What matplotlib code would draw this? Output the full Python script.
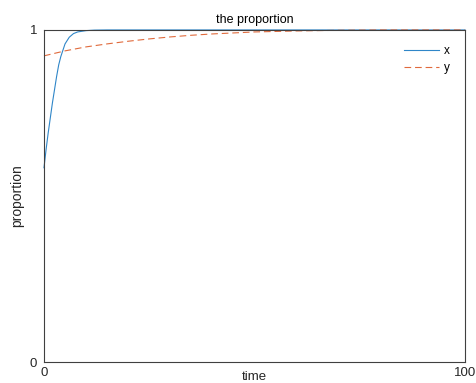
import matplotlib
matplotlib.use("Agg")
import matplotlib.pyplot as plt

plt.rcParams['font.family'] = ['Liberation Sans', 'DejaVu Sans']

# values
t_x = [0, 0.5, 1, 1.5, 2, 2.5, 3, 3.5, 4, 5, 6, 7, 8, 10, 12, 15, 20, 40, 60, 80, 100]
x = [0.585, 0.64, 0.69, 0.735, 0.78, 0.82, 0.86, 0.895, 0.92, 0.958, 0.978, 0.989,
     0.994, 0.998, 0.9995, 1.0, 1.0, 1.0, 1.0, 1.0, 1.0]
t_y = [0, 5, 10, 15, 20, 25, 30, 35, 40, 50, 60, 70, 80, 90, 100]
y = [0.922, 0.937, 0.949, 0.958, 0.966, 0.973, 0.979, 0.984, 0.988, 0.994, 0.997,
     0.999, 1.0, 1.0, 1.0]

blue = '#2f86c8'
orange = '#e06a3c'
grey = '#404040'

fig = plt.figure(figsize=(4.76, 3.83), dpi=100)
ax = fig.add_axes([0.0924, 0.0548, 0.8845, 0.867])

ax.plot(t_x, x, color=blue, lw=0.8, label='x', clip_on=False)
ax.plot(t_y, y, color=orange, lw=0.8, ls='--', dashes=(6, 3.5), label='y', clip_on=False)

ax.set_xlim(0, 100)
ax.set_ylim(0, 1)
ax.set_xticks([0, 100])
ax.set_yticks([0, 1])
ax.tick_params(length=0, labelsize=9.5, colors='#262626')
ax.tick_params(axis='y', pad=5)
for s in ax.spines.values():
    s.set_color(grey)
    s.set_linewidth(0.8)

ax.set_title('the proportion', fontsize=9, pad=5, color='black')
ax.set_xlabel('time', fontsize=9.5, labelpad=-5.5, color='#262626')
ax.set_ylabel('proportion', fontsize=10, labelpad=4, color='#262626')

ax.legend(loc='upper right', frameon=False, fontsize=8.5, handlelength=3.0,
          handletextpad=0.4, borderaxespad=0.9, labelspacing=0.4)

fig.savefig('out.png', dpi=100)
